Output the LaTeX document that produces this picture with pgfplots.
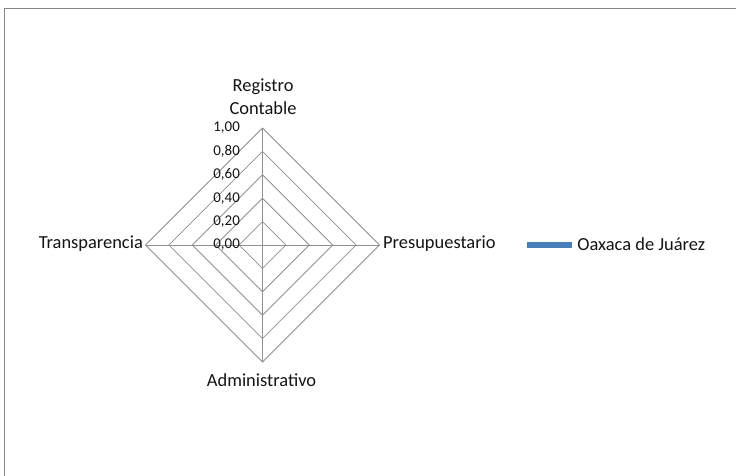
\documentclass[border=0pt]{standalone}
\usepackage{fontspec}
\setmainfont{Carlito}
\usepackage{pgfplots}
\usepackage{pgfplotstable}
\pgfplotsset{compat=1.18}
\definecolor{gridc}{RGB}{145,145,145}
\definecolor{framec}{RGB}{134,134,134}
\definecolor{serieblue}{RGB}{74,126,187}
\definecolor{txt}{RGB}{20,20,20}
% radar data: category, angle (deg), value
\pgfplotstableread{
cat a v
Registro 90 0
Presupuestario 0 0
Administrativo 270 0
Transparencia 180 0
Registro 90 0
}\radardata
\begin{document}
\begin{tikzpicture}
\begin{axis}[
  name=radar,
  width=736bp, height=476bp, scale only axis,
  xmin=-2.2436, xmax=4.0470, ymin=-1.9744, ymax=2.0940,
  hide axis, clip=false,
  legend style={at={(axis cs:2.257,0)}, anchor=west, draw=none, fill=none,
    inner sep=0pt, font=\fontsize{18.5}{20}\selectfont\color{txt},
    nodes={inner sep=0pt},
    /tikz/every odd column/.append style={column sep=5bp}},
  legend image code/.code={\fill[serieblue] (0bp,-1.4bp) rectangle (43bp,1.4bp);},
]
% frame
\draw[framec, line width=1bp] (rel axis cs:0.006793,0) -- (rel axis cs:0.006793,0.98109) -- (rel axis cs:1,0.98109);
% grid diamonds
\addplot[gridc, line width=0.8bp, forget plot] coordinates {(0,0.2) (0.2,0) (0,-0.2) (-0.2,0) (0,0.2)};
\addplot[gridc, line width=0.8bp, forget plot] coordinates {(0,0.4) (0.4,0) (0,-0.4) (-0.4,0) (0,0.4)};
\addplot[gridc, line width=0.8bp, forget plot] coordinates {(0,0.6) (0.6,0) (0,-0.6) (-0.6,0) (0,0.6)};
\addplot[gridc, line width=0.8bp, forget plot] coordinates {(0,0.8) (0.8,0) (0,-0.8) (-0.8,0) (0,0.8)};
\addplot[gridc, line width=0.8bp, forget plot] coordinates {(0,1) (1,0) (0,-1) (-1,0) (0,1)};
% spokes
\addplot[gridc, line width=0.8bp, forget plot] coordinates {(0,-1) (0,1)};
\addplot[gridc, line width=0.8bp, forget plot] coordinates {(-1,0) (1,0)};
% series
\addplot[serieblue, line width=2.6bp] table[x expr={\thisrow{v}*cos(\thisrow{a})}, y expr={\thisrow{v}*sin(\thisrow{a})}] {\radardata};
\addlegendentry{Oaxaca de Juárez}
% value labels
\begin{scope}[every node/.style={font=\fontsize{15}{17}\selectfont, text=txt, inner sep=0pt, anchor=east}]
\node at (axis cs:-0.192,0) {0,00};
\node at (axis cs:-0.192,0.2) {0,20};
\node at (axis cs:-0.192,0.4) {0,40};
\node at (axis cs:-0.192,0.6) {0,60};
\node at (axis cs:-0.192,0.8) {0,80};
\node at (axis cs:-0.192,1.0) {1,00};
\end{scope}
% category labels
\begin{scope}[every node/.style={font=\fontsize{18.5}{20}\selectfont, text=txt, inner sep=0pt}]
\node[anchor=base] at (axis cs:0.005,1.316) {Registro};
\node[anchor=base] at (axis cs:0.005,1.117) {Contable};
\node[anchor=base west] at (axis cs:1.03,-0.034) {Presupuestario};
\node[anchor=base east] at (axis cs:-1.021,-0.028) {Transparencia};
\node[anchor=base] at (axis cs:-0.008,-1.211) {Administrativo};
\end{scope}
\end{axis}
\pgfresetboundingbox
\useasboundingbox (radar.south west) rectangle (radar.north east);
\end{tikzpicture}
\end{document}
